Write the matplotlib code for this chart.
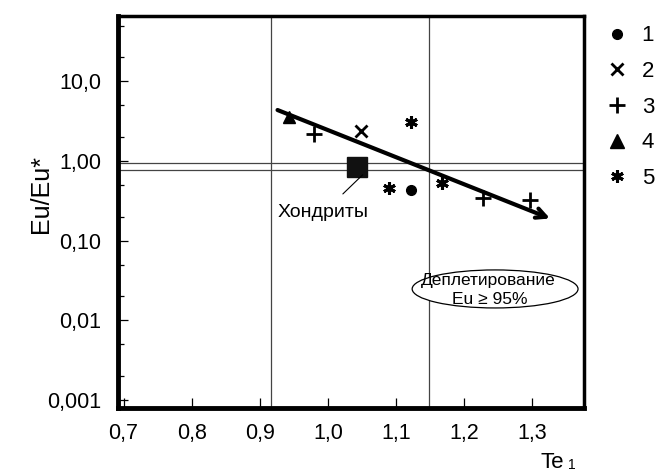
import matplotlib
matplotlib.use("Agg")
import matplotlib.pyplot as plt
from matplotlib.patches import Ellipse

plt.rcParams['font.family'] = ['Liberation Sans', 'DejaVu Sans']

# data
x_ticks = [0.7, 0.8, 0.9, 1.0, 1.1, 1.2, 1.3]
x_labels = ['0,7', '0,8', '0,9', '1,0', '1,1', '1,2', '1,3']
y_ticks = [0.001, 0.01, 0.1, 1.0, 10.0]
y_labels = ['0,001', '0,01', '0,10', '1,00', '10,0']

s1_x, s1_y = [1.122], [0.43]                     # 1 circle
s2_x, s2_y = [1.048], [2.39]                     # 2 cross
s3_x, s3_y = [0.979, 1.227, 1.297], [2.19, 0.344, 0.325]   # 3 plus
s4_x, s4_y = [0.943], [3.57]                     # 4 triangle
s5_x, s5_y = [1.122, 1.090, 1.168], [3.09, 0.46, 0.53]     # 5 asterisk
chondr_x, chondr_y = 1.043, 0.84                 # Хондриты
trend_x = [0.926, 1.326]
trend_y = [4.37, 0.19]
vlines = [0.917, 1.149]
hlines = [0.946, 0.77]

fig = plt.figure(figsize=(6.6, 4.74), dpi=100)
ax = fig.add_axes([0.179, 0.139, 0.706, 0.827])
ax.set_yscale('log')
ax.set_xlim(0.692, 1.376)
ax.set_ylim(0.00079, 66)

for v in vlines:
    ax.axvline(v, color='#444444', lw=0.9, zorder=1)
for h in hlines:
    ax.axhline(h, color='#444444', lw=0.9, zorder=1)

ast = (6, 2, 0)
ax.plot(s1_x, s1_y, 'o', color='k', ms=7, ls='none')
ax.plot(s2_x, s2_y, 'x', color='k', ms=9, mew=2, ls='none')
ax.plot(s3_x, s3_y, '+', color='k', ms=11, mew=2, ls='none')
ax.plot(s4_x, s4_y, '^', color='k', ms=9, ls='none')
ax.plot(s5_x, s5_y, marker=ast, color='k', ms=9, mew=2.2, ls='none')
ax.plot([chondr_x], [chondr_y], 's', color='#111111', ms=15, ls='none')

ax.annotate('', xy=(trend_x[1], trend_y[1]), xytext=(trend_x[0], trend_y[0]),
            arrowprops=dict(arrowstyle='->,head_length=0.7,head_width=0.35',
                            color='k', lw=3, shrinkA=0, shrinkB=0))

ax.annotate('Хондриты', xy=(chondr_x + 0.008, chondr_y * 0.8), xytext=(0.993, 0.223),
            ha='center', va='center', fontsize=14,
            arrowprops=dict(arrowstyle='-', color='k', lw=0.8, shrinkA=8, shrinkB=0))

ax.add_patch(Ellipse((0.809, 0.304), 0.356, 0.097, transform=ax.transAxes,
                     fc='white', ec='k', lw=0.9, zorder=3))
ax.text(0.794, 0.326, 'Деплетирование', transform=ax.transAxes,
        ha='center', va='center', fontsize=12.5, zorder=4)
ax.text(0.798, 0.278, 'Eu \u2265 95%', transform=ax.transAxes,
        ha='center', va='center', fontsize=12.5, zorder=4)

ax.set_xticks(x_ticks)
ax.set_xticklabels(x_labels)
ax.set_yticks(y_ticks)
ax.set_yticklabels(y_labels)
ax.yaxis.set_minor_locator(matplotlib.ticker.LogLocator(subs=(2.0, 5.0)))
ax.yaxis.set_minor_formatter(matplotlib.ticker.NullFormatter())
ax.tick_params(axis='both', which='major', direction='in', length=7, width=0.9,
               labelsize=15.5, colors='k')
ax.tick_params(axis='x', pad=11)
ax.tick_params(axis='y', pad=12)
ax.tick_params(axis='y', which='minor', direction='in', length=4, width=0.9)

for side in ['left', 'bottom']:
    ax.spines[side].set_linewidth(3.5)
for side in ['top', 'right']:
    ax.spines[side].set_linewidth(2.5)

fig.text(0.062, 0.59, 'Eu/Eu*', rotation=90, ha='center', va='center', fontsize=18)
fig.text(0.836, 0.025, 'Te', ha='center', va='center', fontsize=16)
fig.text(0.866, 0.02, '1', ha='center', va='center', fontsize=10)

# legend
handles = [
    plt.Line2D([], [], marker='o', color='k', ms=7, ls='none'),
    plt.Line2D([], [], marker='x', color='k', ms=9, mew=2, ls='none'),
    plt.Line2D([], [], marker='+', color='k', ms=11, mew=2, ls='none'),
    plt.Line2D([], [], marker='^', color='k', ms=10, ls='none'),
    plt.Line2D([], [], marker=ast, color='k', ms=9, mew=2.2, ls='none'),
]
fig.legend(handles, ['1', '2', '3', '4', '5'], loc='upper left',
           bbox_to_anchor=(0.905, 0.965), frameon=False, fontsize=16,
           handlelength=1.0, handletextpad=0.6, labelspacing=0.66,
           borderaxespad=0)

fig.savefig('out.png', dpi=100)
